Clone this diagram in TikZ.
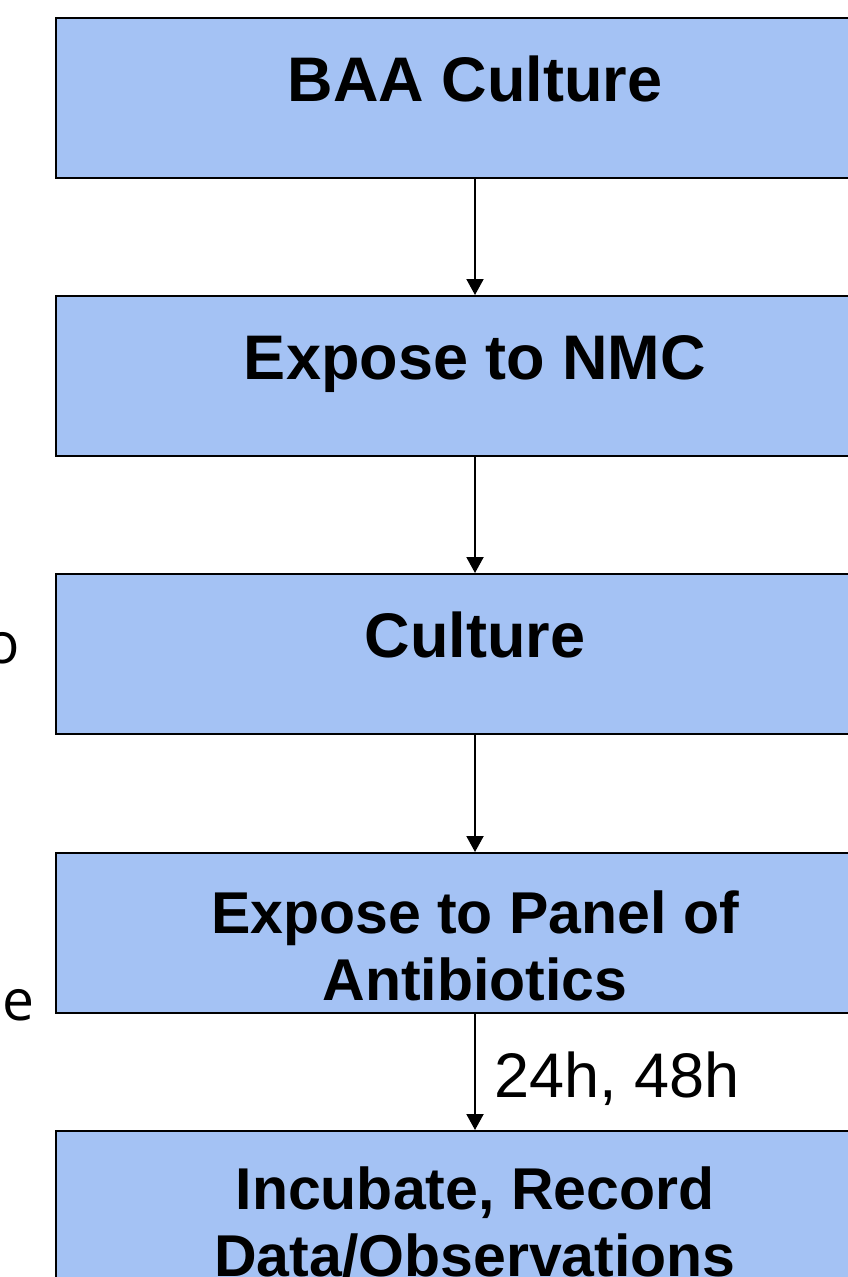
\documentclass[tikz,border=0pt]{standalone}
\usepackage{fontspec}
\setmainfont{Liberation Sans}
\newfontfamily\sidefont{Open Sans}
\usetikzlibrary{arrows.meta}
\definecolor{boxblue}{RGB}{164,194,244}
\begin{document}
\begin{tikzpicture}[x=1pt,y=-1pt,
  stepbox/.style={draw=black,line width=2pt,fill=boxblue,minimum width=838pt,minimum height=160pt,inner sep=0pt},
  boxtext/.style={font=\fontsize{63}{67}\selectfont\bfseries,inner sep=0pt,anchor=base,align=center},
  boxtexttwo/.style={font=\fontsize{59}{67}\selectfont\bfseries,inner sep=0pt,anchor=base,align=center},
  flow/.style={line width=2pt,-{Triangle[width=17pt,length=16pt]}},
  sidetext/.style={font=\sidefont\fontsize{57}{60}\selectfont,inner sep=0pt,anchor=base west}]
\useasboundingbox (0,0) rectangle (848,1277);
\clip (0,0) rectangle (848,1277);
\fill[white] (0,0) rectangle (848,1277);
\node[stepbox] (b1) at (475,98) {};
\node[stepbox] (b2) at (475,376) {};
\node[stepbox] (b3) at (475,654) {};
\node[stepbox] (b4) at (475,933) {};
\node[stepbox] (b5) at (475,1211) {};
\node[boxtext] (t1) at (475,101) {BAA Culture};
\node[boxtext] (t2) at (475,379) {Expose to NMC};
\node[boxtext] (t3) at (475,657) {Culture};
\node[boxtexttwo] (t4) at (475,1000) {Expose to Panel of\\Antibiotics};
\node[boxtexttwo] (t5) at (475,1276) {Incubate, Record\\Data/Observations};
\node[sidetext] (s1) at (-15,663) {o};
\node[sidetext] (s2) at (2,1020) {e};
\draw[flow] (b1.south) -- (b2.north);
\draw[flow] (b2.south) -- (b3.north);
\draw[flow] (b3.south) -- (b4.north);
\draw[flow] (b4.south) -- node[pos=0.5,anchor=base west,inner sep=0pt,xshift=18pt,yshift=-25pt,font=\fontsize{63}{67}\selectfont] (lab) {24h, 48h} (b5.north);
\end{tikzpicture}
\end{document}
